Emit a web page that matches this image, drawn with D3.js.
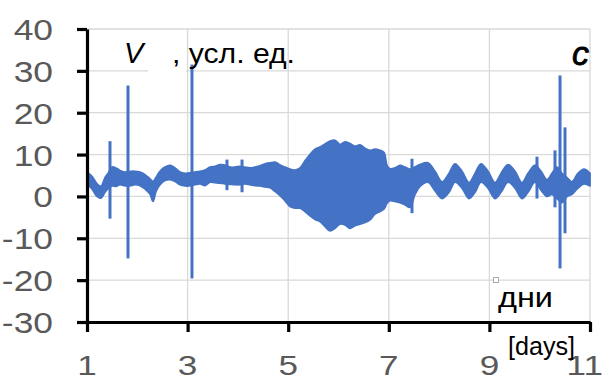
<!DOCTYPE html>
<html>
<head>
<meta charset="utf-8">
<script src="https://cdn.jsdelivr.net/npm/d3@7"></script>
<style>
  html, body { margin: 0; padding: 0; background: #fff; }
  svg { display: block; }
</style>
</head>
<body>
<svg id="chart" width="606" height="381"></svg>
<script>
// Time in days
const days = [1.000,1.099,1.199,1.278,1.358,1.417,1.497,1.577,1.656,1.736,1.875,1.954,2.054,2.153,2.252,2.312,2.372,2.451,2.551,2.650,2.750,2.849,2.948,3.028,3.147,3.247,3.346,3.445,3.545,3.644,3.744,3.843,3.942,4.042,4.141,4.241,4.340,4.439,4.539,4.638,4.738,4.837,4.936,5.036,5.135,5.235,5.334,5.433,5.533,5.632,5.732,5.831,5.930,6.030,6.129,6.229,6.328,6.427,6.527,6.626,6.726,6.825,6.905,6.964,7.024,7.123,7.223,7.322,7.421,7.521,7.620,7.779,7.918,8.058,8.197,8.316,8.455,8.594,8.714,8.833,8.972,9.111,9.231,9.370,9.509,9.648,9.767,9.907,10.026,10.145,10.245,10.344,10.443,10.543,10.642,10.761,10.881,11.000];
// Upper and lower bounds of the fast oscillation of V
const upper = [5.8,4.8,3.0,2.4,4.5,5.5,7.0,6.8,6.2,5.8,6.0,6.0,5.8,5.2,4.2,3.6,4.5,6.0,7.0,7.4,6.8,5.8,5.5,5.6,5.8,6.0,6.3,7.0,7.2,7.6,7.5,7.0,7.0,7.2,7.0,6.8,7.0,7.3,7.8,8.0,8.2,7.5,7.0,6.5,6.3,6.8,8.5,10.0,11.3,11.8,12.5,13.2,13.4,12.4,13.0,12.6,12.0,12.3,11.5,11.0,11.3,11.0,10.5,7.4,6.6,6.8,7.4,7.0,6.5,7.0,7.6,8.0,6.0,3.5,5.5,7.8,6.0,3.3,5.5,7.8,6.0,3.3,5.5,7.6,6.0,3.3,5.5,7.5,6.0,4.0,5.5,7.0,5.5,4.5,3.5,5.5,6.5,5.5];
const lower = [3.0,1.8,0.0,-0.4,1.0,1.8,2.5,2.4,2.8,2.6,2.6,2.8,2.6,1.8,0.6,-1.2,1.2,2.8,3.8,4.0,3.6,2.8,2.5,2.5,2.8,3.0,2.6,3.4,3.3,3.2,3.0,2.9,2.8,2.8,3.0,2.8,2.6,2.5,2.3,2.1,1.2,0.2,-1.0,-2.4,-2.8,-2.8,-3.6,-4.6,-5.5,-6.0,-7.2,-8.2,-7.6,-6.6,-6.8,-7.6,-7.0,-6.6,-6.2,-5.6,-4.2,-3.6,-3.0,-1.6,-1.0,-1.2,-1.5,-2.0,-2.6,0.5,2.4,3.4,1.4,-0.5,1.0,3.4,2.0,-0.5,1.0,3.4,2.0,-0.5,1.0,3.4,2.0,-0.5,1.0,3.4,1.5,0.0,0.5,-0.5,-1.5,0.0,0.5,2.0,3.0,2.5];
// Short bursts: time, maximum, minimum
const burstDays = [1.457, 1.815, 3.087, 3.783, 4.082, 7.461, 9.946, 10.304, 10.404, 10.503];
const burstMax  = [13.2, 26.5, 31.5, 8.8, 8.8, 9.0, 9.5, 11.0, 28.9, 16.5];
const burstMin  = [-5.3, -14.8, -19.6, 1.5, 1.0, -4.0, -0.5, -2.6, -17.2, -8.8];
// Axis ticks
const xTicks = [1, 3, 5, 7, 9, 11];
const yTicks = [-30, -20, -10, 0, 10, 20, 30, 40];

const svg = d3.select("#chart");
const x = d3.scaleLinear().domain([1, 11]).range([87, 590]);
const y = d3.scaleLinear().domain([-30, 40]).range([322, 29]);
const blue = "#4472C4";
const numFont = "Liberation Sans, Arial, sans-serif";

// Grid
const grid = svg.append("g").attr("stroke", "#d9d9d9").attr("stroke-width", 1.3);
grid.selectAll("line.h").data(yTicks.filter(v => v > -30)).join("line")
  .attr("x1", x(1)).attr("x2", x(11)).attr("y1", d => y(d)).attr("y2", d => y(d));
grid.selectAll("line.v").data(xTicks.filter(v => v > 1)).join("line")
  .attr("y1", y(40)).attr("y2", y(-30)).attr("x1", d => x(d)).attr("x2", d => x(d));

// Blank box behind the quantity label
svg.append("rect").attr("x", 148).attr("y", 49).attr("width", 38).attr("height", 25).attr("fill", "#fff");

// Oscillation band
const band = days.map((d, i) => ({ d, hi: upper[i], lo: lower[i] }));
svg.append("path")
  .datum(band)
  .attr("fill", blue)
  .attr("stroke", blue)
  .attr("stroke-width", 1.8)
  .attr("stroke-linejoin", "round")
  .attr("d", d3.area().x(p => x(p.d)).y0(p => y(p.lo)).y1(p => y(p.hi)).curve(d3.curveCatmullRom));

// Bursts
svg.append("g").selectAll("line").data(burstDays).join("line")
  .attr("x1", d => x(d)).attr("x2", d => x(d))
  .attr("y1", (d, i) => y(burstMax[i])).attr("y2", (d, i) => y(burstMin[i]))
  .attr("stroke", blue).attr("stroke-width", 3);

// Axes
const yAxis = svg.append("g").attr("transform", `translate(${x(1)},0)`)
  .call(d3.axisLeft(y).tickValues(yTicks).tickSize(10).tickSizeOuter(0).tickFormat(""));
const xAxis = svg.append("g").attr("transform", `translate(0,${y(-30)})`)
  .call(d3.axisBottom(x).tickValues(xTicks).tickSize(10).tickSizeOuter(0).tickFormat(""));
[yAxis, xAxis].forEach(g => {
  g.select(".domain").attr("stroke", "#000").attr("stroke-width", 3.2);
  g.selectAll(".tick line").attr("stroke", "#000").attr("stroke-width", 3.2);
});

// Tick labels (stretched horizontally)
function stretchedText(sel, tx, ty, str, opts) {
  return sel.append("text")
    .attr("transform", `translate(${tx},${ty}) scale(${opts.sx || 1},1)`)
    .attr("text-anchor", opts.anchor || "start")
    .attr("font-family", opts.family || numFont)
    .attr("font-size", opts.size)
    .attr("font-style", opts.style || "normal")
    .attr("fill", opts.fill || "#000")
    .text(str);
}
const labels = svg.append("g");
yTicks.forEach(v => stretchedText(labels, 53, y(v) + 11, String(v),
  { anchor: "end", size: 30, sx: 1.18, fill: "#595959" }));
// The last day label sits flush against the right edge
xTicks.forEach((v, i) => {
  const last = i === xTicks.length - 1;
  stretchedText(labels, last ? 603 : x(v), 375, String(v),
    { anchor: last ? "end" : "middle", size: 27, sx: 1.3, fill: "#595959" });
});

// Annotations
stretchedText(svg, 124, 63, "V", { size: 29, style: "italic" });
svg.append("text").attr("x", 172).attr("y", 63)
  .attr("font-family", numFont).attr("font-size", 27)
  .attr("textLength", 123).attr("lengthAdjust", "spacingAndGlyphs")
  .text(", усл. ед.");
stretchedText(svg, 572, 65, "c", { size: 34, style: "italic" })
  .attr("stroke", "#000").attr("stroke-width", 0.8);
svg.append("text").attr("x", 498).attr("y", 307)
  .attr("font-family", numFont).attr("font-size", 28)
  .attr("textLength", 55).attr("lengthAdjust", "spacingAndGlyphs")
  .text("дни");
svg.append("text").attr("x", 508).attr("y", 355)
  .attr("font-family", numFont).attr("font-size", 25)
  .attr("textLength", 67).attr("lengthAdjust", "spacingAndGlyphs")
  .text("[days]");
svg.append("rect").attr("x", 493.5).attr("y", 277.5).attr("width", 5).attr("height", 5)
  .attr("fill", "#fff").attr("stroke", "#aaa").attr("stroke-width", 1);
</script>
</body>
</html>
